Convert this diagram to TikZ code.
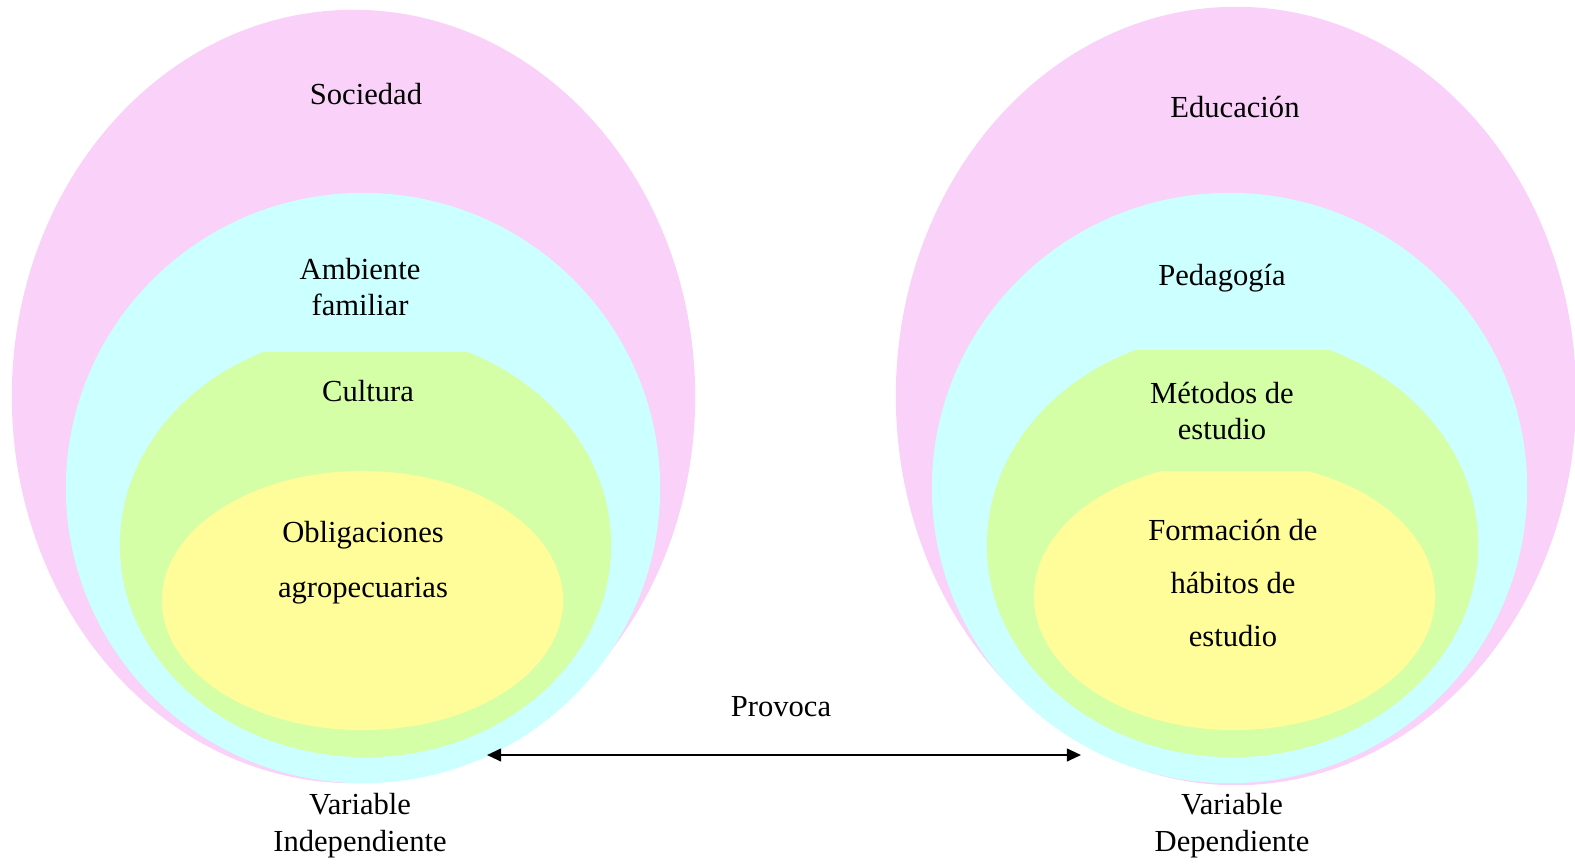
\documentclass[tikz,border=0pt]{standalone}
\usepackage{fontspec}
\setmainfont{Liberation Serif}
\usepackage{xcolor}
\usetikzlibrary{arrows.meta}

\definecolor{pinkish}{HTML}{F9D1F9}
\definecolor{cyanish}{HTML}{CCFFFF}
\definecolor{greenish}{HTML}{D4FFA6}
\definecolor{yellowish}{HTML}{FFFD99}

\tikzset{
	lbl/.style = {align=center, font=\fontsize{8.7}{10.5}\selectfont, inner sep=0pt},
}

\begin{document}
\begin{tikzpicture}[x=0.01cm, y=-0.01cm]
	\useasboundingbox (0,0) rectangle (1575,863);
	% left: independent variable
	\fill[pinkish] (353.5,396.5) ellipse [x radius=3.415cm, y radius=3.865cm];
	\fill[cyanish] (363,488) ellipse [x radius=2.97cm, y radius=2.95cm];
	\begin{scope}
		\clip (0,352) rectangle (800,863);
		\fill[greenish] (365.5,545) ellipse [x radius=2.455cm, y radius=2.12cm];
	\end{scope}
	\fill[yellowish] (362.5,600.5) ellipse [x radius=2.005cm, y radius=1.295cm];
	% right: dependent variable
	\fill[pinkish] (1236,396) ellipse [x radius=3.40cm, y radius=3.89cm];
	\fill[cyanish] (1229.5,488) ellipse [x radius=2.975cm, y radius=2.95cm];
	\begin{scope}
		\clip (900,350) rectangle (1575,863);
		\fill[greenish] (1232.5,545) ellipse [x radius=2.455cm, y radius=2.12cm];
	\end{scope}
	\begin{scope}
		\clip (900,471) rectangle (1575,863);
		\fill[yellowish] (1234.5,596) ellipse [x radius=2.005cm, y radius=1.34cm];
	\end{scope}

	\node[lbl] (soc) at (366,94) {Sociedad};
	\node[lbl] (amb) at (360,287) {Ambiente\\familiar};
	\node[lbl] (cul) at (368,391) {Cultura};
	\node[lbl, font=\fontsize{8.7}{15.7}\selectfont] (obl) at (363,563) {Obligaciones\\agropecuarias};
	\node[lbl] (edu) at (1235,107) {Educación};
	\node[lbl] (ped) at (1222,278) {Pedagogía};
	\node[lbl] (met) at (1222,411) {Métodos de\\estudio};
	\node[lbl, font=\fontsize{8.7}{15.2}\selectfont] (hab) at (1233,583) {Formación de\\hábitos de\\estudio};
	\node[lbl] (prov) at (781,707) {Provoca};
	\node[lbl] (vi) at (360,826) {Variable\\Independiente};
	\node[lbl] (vd) at (1232,826) {Variable\\Dependiente};

	\coordinate (ivar) at (487,755);
	\coordinate (dvar) at (1081,755);
	\draw[line width=0.6pt, {Triangle[length=4pt,width=3.6pt]}-{Triangle[length=4pt,width=3.6pt]}] (ivar) -- (dvar);
\end{tikzpicture}
\end{document}
